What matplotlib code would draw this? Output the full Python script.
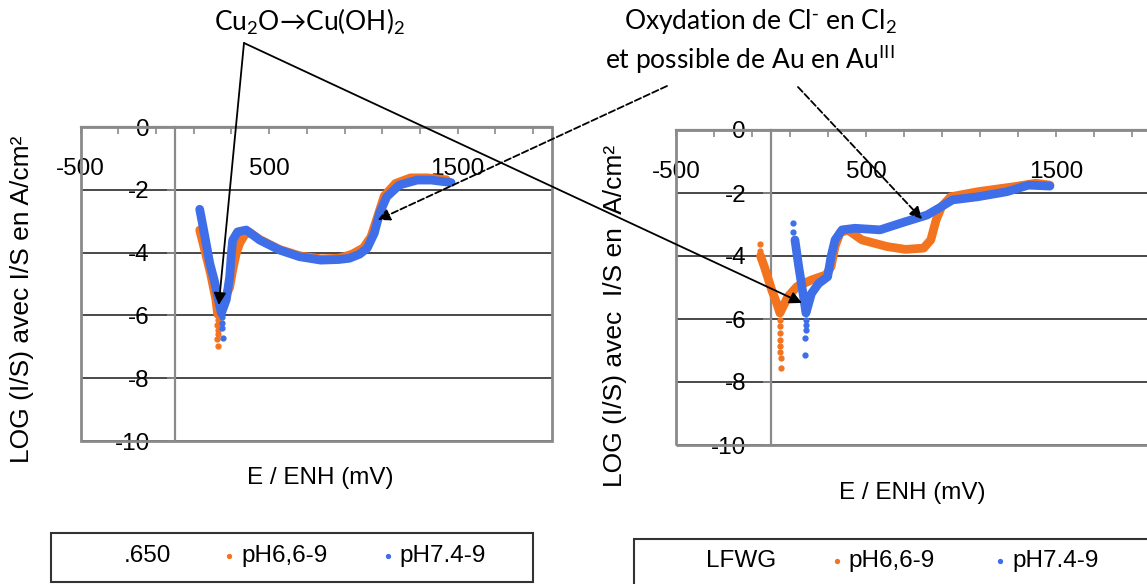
import numpy as np
import matplotlib.pyplot as plt
from matplotlib.lines import Line2D
from matplotlib.patches import Rectangle

plt.rcParams['font.family'] = ['Liberation Sans', 'DejaVu Sans']
plt.rcParams['mathtext.default'] = 'regular'
plt.rcParams['axes.unicode_minus'] = False

W, H = 1147, 584

# --- données (E en mV / ENH, log(I/S)) ---
# échantillon .650
e_650_ph66 = [132, 160, 189, 218, 227, 254, 291, 307, 326, 344, 370, 395, 450, 556, 661, 774,
              870, 940, 1000, 1040, 1070, 1110, 1170, 1250, 1340, 1440]
log_650_ph66 = [-3.28, -3.95, -4.65, -5.5, -5.95, -5.6, -5.1, -4.55, -4.02, -3.7, -3.44, -3.35,
                -3.58, -3.9, -4.1, -4.2, -4.18, -4.05, -3.85, -3.5, -2.95, -2.2, -1.8, -1.62,
                -1.62, -1.68]
e_650_ph66_pts = [226, 227, 226, 228, 227, 226, 227]
log_650_ph66_pts = [-6.0, -6.15, -6.3, -6.45, -6.6, -6.75, -6.97]

e_650_ph74 = [132, 160, 185, 210, 228, 247, 273, 291, 300, 307, 333, 379, 450, 556, 661, 774,
              870, 926, 980, 1020, 1058, 1086, 1124, 1190, 1285, 1360, 1465]
log_650_ph74 = [-2.62, -3.5, -4.33, -4.9, -5.4, -5.93, -5.5, -4.77, -4.02, -3.6, -3.34, -3.28,
                -3.6, -3.92, -4.13, -4.24, -4.22, -4.18, -4.05, -3.86, -3.38, -2.74, -2.22,
                -1.85, -1.69, -1.69, -1.77]
e_650_ph74_pts = [248, 249, 250, 254]
log_650_ph74_pts = [-6.05, -6.24, -6.4, -6.72]

# échantillon LFWG
e_lfwg_ph66 = [-55, -35, 4, 30, 47, 89, 137, 213, 290, 316, 337, 363, 403, 479, 611, 708, 803,
               841, 869, 898, 946, 1088, 1279, 1393, 1468]
log_lfwg_ph66 = [-4.0, -4.34, -5.08, -5.5, -5.81, -5.29, -4.97, -4.76, -4.60, -4.34, -3.70,
                 -3.27, -3.17, -3.49, -3.70, -3.79, -3.75, -3.49, -2.86, -2.43, -2.12, -1.96,
                 -1.80, -1.69, -1.75]
e_lfwg_ph66_pts = [-57, -57, 47, 48, 47, 49, 48, 49, 50, 51]
log_lfwg_ph66_pts = [-3.62, -3.85, -6.03, -6.22, -6.44, -6.67, -6.86, -7.05, -7.24, -7.56]

e_lfwg_ph74 = [126, 146, 174, 184, 213, 251, 298, 316, 337, 374, 442, 574, 708, 821, 898, 955,
               1088, 1241, 1355, 1468]
log_lfwg_ph74 = [-3.49, -4.34, -5.40, -5.81, -5.19, -4.87, -4.66, -4.02, -3.49, -3.17, -3.12,
                 -3.17, -2.91, -2.70, -2.43, -2.22, -2.12, -1.96, -1.75, -1.78]
e_lfwg_ph74_pts = [116, 118, 182, 183, 182, 181, 180]
log_lfwg_ph74_pts = [-2.96, -3.24, -6.03, -6.19, -6.35, -6.60, -7.14]

series_noms = ['pH6,6-9', 'pH7.4-9']

orange = '#F4731F'
bleu = '#3E6FE8'
gris = '#8a8a8a'

fig = plt.figure(figsize=(W / 100, H / 100), dpi=100)


def px_axes(x0, y0, x1, y1):
    return fig.add_axes([x0 / W, 1 - y1 / H, (x1 - x0) / W, (y1 - y0) / H])


def habillage(ax, ylabel, lab_x, lab_y, xl_x, xl_y):
    ax.set_xlim(-500, 2000)
    ax.set_ylim(-10, 0)
    ax.spines['top'].set_visible(False)
    ax.spines['right'].set_visible(False)
    ax.spines['left'].set_position(('data', 0))
    ax.spines['bottom'].set_position(('data', 0))
    for s in ['left', 'bottom']:
        ax.spines[s].set_color(gris)
        ax.spines[s].set_linewidth(1.6)
    ax.add_patch(Rectangle((0, 0), 1, 1, transform=ax.transAxes, fill=False,
                           edgecolor=gris, lw=2, zorder=2.5, clip_on=False))
    ax.set_xticks([-500, 500, 1500])
    ax.set_xticks(np.arange(-300, 2000, 200), minor=True)
    ax.set_yticks(np.arange(-10, 1, 2))
    ax.set_axisbelow(True)
    ax.yaxis.grid(True, color='#3a3a3a', lw=1.3)
    ax.tick_params(axis='x', which='both', direction='out', length=5, width=1.2,
                   color=gris, pad=17, labelsize=17.5)
    ax.tick_params(axis='y', direction='out', length=6, width=1.2, color=gris,
                   pad=12, labelsize=17.5)
    ax.set_ylabel(ylabel, fontsize=19)
    ax.yaxis.set_label_coords(lab_x, lab_y)
    ax.set_xlabel('E / ENH (mV)', fontsize=17.5)
    ax.xaxis.set_label_coords(xl_x, xl_y)


ax1 = px_axes(80.5, 127, 552, 441)
ax2 = px_axes(676, 130, 1151, 445)

for ax, e66, l66, p66x, p66y, e74, l74, p74x, p74y in [
        (ax1, e_650_ph66, log_650_ph66, e_650_ph66_pts, log_650_ph66_pts,
         e_650_ph74, log_650_ph74, e_650_ph74_pts, log_650_ph74_pts),
        (ax2, e_lfwg_ph66, log_lfwg_ph66, e_lfwg_ph66_pts, log_lfwg_ph66_pts,
         e_lfwg_ph74, log_lfwg_ph74, e_lfwg_ph74_pts, log_lfwg_ph74_pts)]:
    ax.plot(e66, l66, color=orange, lw=6.3, solid_capstyle='round', solid_joinstyle='round', zorder=3)
    ax.plot(p66x, p66y, 'o', color=orange, ms=3.5, zorder=3)
    ax.plot(e74, l74, color=bleu, lw=6.3, solid_capstyle='round', solid_joinstyle='round', zorder=4)
    ax.plot(p74x, p74y, 'o', color=bleu, ms=3.5, zorder=4)

habillage(ax1, 'LOG (I/S) avec I/S en A/cm²', -0.099, 0.45, 0.508, -0.083)
habillage(ax2, 'LOG (I/S) avec  I/S en  A/cm²', -0.103, 0.41, 0.497, -0.117)


# légendes (cadre + entrées)
def legende(nom, box, yc, x_nom, x_marq, x_txt):
    x0, y0, x1, y1 = box
    fig.add_artist(Rectangle((x0 / W, 1 - y1 / H), (x1 - x0) / W, (y1 - y0) / H,
                             transform=fig.transFigure, fill=False, edgecolor='#333333', lw=1.5))
    fig.text(x_nom / W, 1 - yc / H, nom, fontsize=17.5, ha='center', va='center')
    for xm, xt, nom_s, c in zip(x_marq, x_txt, series_noms, [orange, bleu]):
        fig.add_artist(Line2D([xm / W], [1 - yc / H], transform=fig.transFigure,
                              ls='none', marker='o', ms=2.8, color=c))
        fig.text(xt / W, 1 - yc / H, nom_s, fontsize=17.5, ha='left', va='center')


legende('.650', (51, 533, 533, 582), 556, 147, [229, 388], [241, 399])
legende('LFWG', (634, 539, 1160, 600), 561, 741, [837, 1000], [848, 1012])

# annotations
fig.text(310 / W, 1 - 22 / H, 'Cu$_2$O→Cu(OH)$_2$', family='Lato', fontsize=19,
         ha='center', va='center')
fig.text(760 / W, 1 - 21 / H, 'Oxydation de Cl$^{\\text{-}}$ en Cl$_2$', family='Lato',
         fontsize=19, ha='center', va='center')
fig.text(750 / W, 1 - 60 / H, 'et possible de Au en Au$^{III}$', family='Lato', fontsize=19,
         ha='center', va='center')

apex = (244 / W, 1 - 43 / H)
fleches = [
    (ax1, (233, -5.67), apex, '-'),
    (ax2, (163, -5.49), apex, '-'),
    (ax1, (1076, -2.96), (667 / W, 1 - 86 / H), '--'),
    (ax2, (795, -2.83), (798 / W, 1 - 87 / H), '--'),
]
for cible_ax, xy, xytext, ls in fleches:
    ax2.annotate('', xy=xy, xycoords=cible_ax.transData, xytext=xytext,
                 textcoords='figure fraction', annotation_clip=False,
                 arrowprops=dict(arrowstyle='-|>', color='black', lw=1.3, ls=ls,
                                 mutation_scale=18, shrinkA=0, shrinkB=0),
                 zorder=10)

fig.savefig('out.png', dpi=100)
